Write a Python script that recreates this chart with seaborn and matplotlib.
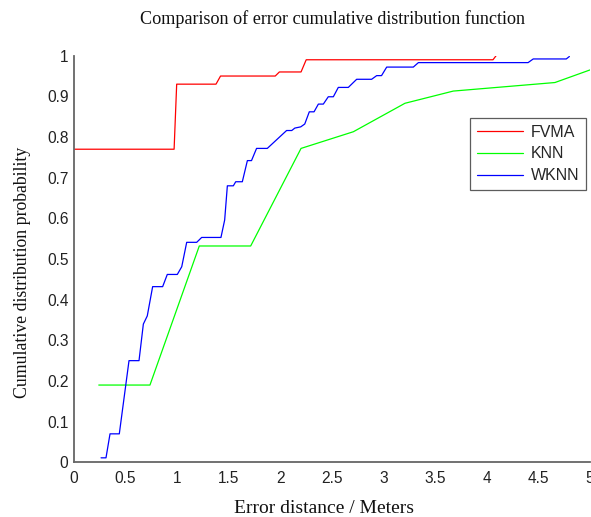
import numpy as np
import pandas as pd
import matplotlib
matplotlib.use("Agg")
import matplotlib.pyplot as plt
import seaborn as sns

fvma_x = [0.0, 0.97, 0.995, 1.376, 1.42, 1.95, 1.99, 2.2, 2.25, 4.06, 4.09]
fvma_y = [0.77, 0.77, 0.93, 0.93, 0.95, 0.95, 0.96, 0.96, 0.99, 0.99, 1.0]

knn_x = [0.24, 0.736, 1.214, 1.712, 2.2, 2.707, 3.207, 3.675, 4.66, 5.0]
knn_y = [0.19, 0.19, 0.532, 0.532, 0.772, 0.813, 0.883, 0.913, 0.934, 0.965]

wknn_x = [0.262, 0.31, 0.349, 0.439, 0.533, 0.63, 0.672, 0.71, 0.762, 0.859,
          0.904, 1.001, 1.044, 1.092, 1.189, 1.237, 1.424, 1.46, 1.486, 1.544,
          1.567, 1.631, 1.68, 1.72, 1.769, 1.873, 2.06, 2.11, 2.14, 2.197,
          2.236, 2.28, 2.326, 2.368, 2.416, 2.464, 2.513, 2.561, 2.658, 2.739,
          2.884, 2.933, 2.98, 3.03, 3.288, 3.337, 4.40, 4.45, 4.77, 4.80]
wknn_y = [0.011, 0.011, 0.070, 0.070, 0.25, 0.25, 0.340, 0.36, 0.432, 0.432,
          0.462, 0.462, 0.481, 0.541, 0.541, 0.553, 0.553, 0.596, 0.680, 0.680,
          0.69, 0.69, 0.742, 0.742, 0.772, 0.772, 0.816, 0.816, 0.822, 0.825,
          0.832, 0.862, 0.862, 0.881, 0.881, 0.899, 0.899, 0.922, 0.922, 0.942,
          0.942, 0.951, 0.951, 0.972, 0.972, 0.983, 0.983, 0.992, 0.992, 0.998]

series_names = ["FVMA", "KNN", "WKNN"]
series_colors = ["#ff0000", "#00ff00", "#0000ff"]

x_ticks = [0, 0.5, 1, 1.5, 2, 2.5, 3, 3.5, 4, 4.5, 5]
x_tick_labels = ["0", "0.5", "1", "1.5", "2", "2.5", "3", "3.5", "4", "4.5", "5"]
y_ticks = [0, 0.1, 0.2, 0.3, 0.4, 0.5, 0.6, 0.7, 0.8, 0.9, 1.0]
y_tick_labels = ["0", "0.1", "0.2", "0.3", "0.4", "0.5", "0.6", "0.7", "0.8", "0.9", "1"]

sns.set_style("white")
plt.rcParams["font.family"] = ["Liberation Sans", "DejaVu Sans"]

fig = plt.figure(figsize=(5.91, 5.17), dpi=100)
ax = fig.add_axes([74 / 591, 1 - 462.3 / 517, (590 - 74) / 591, (462.3 - 55.7) / 517])

datasets = [(fvma_x, fvma_y), (knn_x, knn_y), (wknn_x, wknn_y)]
for (xs, ys), name, col in zip(datasets, series_names, series_colors):
    df = pd.DataFrame({"x": xs, "y": ys})
    sns.lineplot(data=df, x="x", y="y", color=col, label=name, ax=ax,
                 estimator=None, sort=False, linewidth=0.9)

ax.set_xlim(0, 5)
ax.set_ylim(0, 1)
ax.set_xticks(x_ticks)
ax.set_xticklabels(x_tick_labels)
ax.set_yticks(y_ticks)
ax.set_yticklabels(y_tick_labels)
ax.tick_params(direction="in", length=4, width=1, color="#777777",
               labelsize=11.2, labelcolor="#222222")
ax.tick_params(axis="x", pad=6)
ax.tick_params(axis="y", pad=4)
for s in ["top", "right"]:
    ax.spines[s].set_visible(False)
for s in ["left", "bottom"]:
    ax.spines[s].set_color("#666666")
    ax.spines[s].set_linewidth(1.3)

serif = ["Liberation Serif", "DejaVu Serif"]
ax.set_title("Comparison of error cumulative distribution function",
             family=serif, fontsize=13.1, pad=23, color="#111111")
ax.set_xlabel("Error distance / Meters", family=serif, fontsize=14,
              color="#111111")
ax.set_ylabel("Cumulative distribution probability", family=serif,
              fontsize=12.8, color="#111111")
ax.yaxis.set_label_coords(-0.084, 0.467)
ax.xaxis.set_label_coords(0.484, -0.113)
ax.xaxis.label.set_va("center")

leg = ax.legend(loc="upper left", bbox_to_anchor=(470 / 591, 1 - 118 / 517),
                bbox_transform=fig.transFigure, frameon=True, fancybox=False,
                fontsize=11.5, handlelength=2.9, borderpad=0.42, labelspacing=0.42,
                handletextpad=0.5, borderaxespad=0)
leg.get_frame().set_edgecolor("#333333")
leg.get_frame().set_linewidth(0.9)

fig.savefig("out.png", dpi=100)
